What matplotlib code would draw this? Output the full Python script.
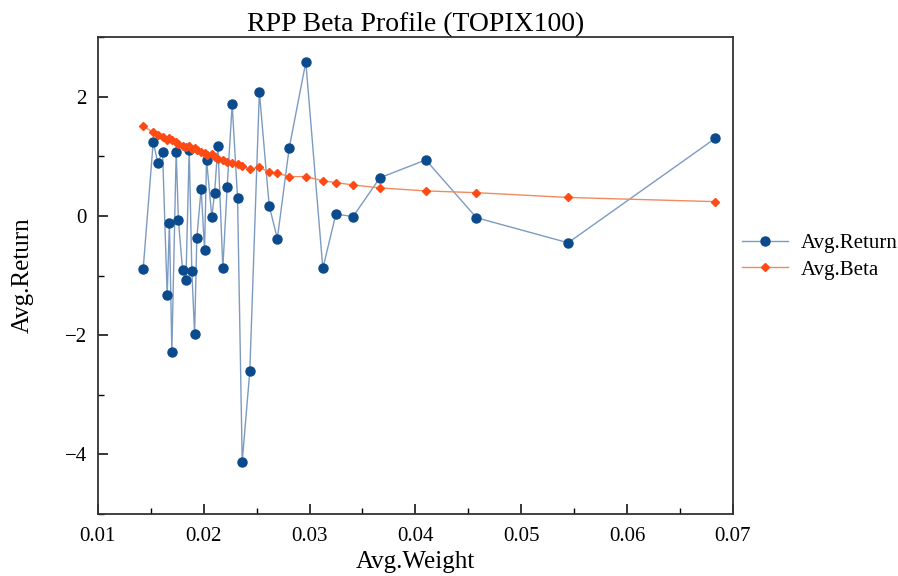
import matplotlib
matplotlib.use("Agg")
import matplotlib.pyplot as plt
from matplotlib.ticker import MultipleLocator

plt.rcParams['font.family'] = ['Liberation Serif', 'DejaVu Serif']

avg_weight = [0.01428, 0.01523, 0.01567, 0.01611, 0.01655, 0.01676, 0.01699, 0.01740,
              0.01761, 0.01800, 0.01832, 0.01863, 0.01888, 0.01914, 0.01935, 0.01976,
              0.02008, 0.02027, 0.02077, 0.02103, 0.02134, 0.02181, 0.02222, 0.02269,
              0.02320, 0.02364, 0.02436, 0.02526, 0.02619, 0.02696, 0.02808, 0.02965,
              0.03126, 0.03249, 0.03412, 0.03665, 0.04099, 0.04578, 0.05444, 0.06833]

avg_return = [-0.89, 1.24, 0.89, 1.08, -1.33, -0.11, -2.28, 1.08,
              -0.07, -0.90, -1.08, 1.11, -0.92, -1.98, -0.37, 0.46,
              -0.57, 0.94, -0.02, 0.39, 1.18, -0.87, 0.49, 1.87,
              0.30, -4.12, -2.60, 2.08, 0.17, -0.38, 1.14, 2.58,
              -0.88, 0.03, -0.01, 0.64, 0.94, -0.03, -0.45, 1.30]

avg_beta = [1.51, 1.40, 1.36, 1.33, 1.28, 1.31, 1.27, 1.24,
            1.20, 1.18, 1.15, 1.17, 1.12, 1.14, 1.10, 1.07,
            1.05, 1.02, 1.04, 0.99, 0.96, 0.94, 0.91, 0.89,
            0.87, 0.84, 0.78, 0.82, 0.73, 0.72, 0.66, 0.66,
            0.59, 0.56, 0.52, 0.47, 0.42, 0.39, 0.31, 0.24]

fig = plt.figure(figsize=(8.98, 5.76), dpi=100)
ax = fig.add_axes([0.109, 0.1076, 0.707, 0.828])

ax.plot(avg_weight, avg_return, color='#7d9bc1', linewidth=1.0,
        marker='o', markersize=6.5, markerfacecolor='#0b4a8c',
        markeredgecolor='#0b4a8c', label='Avg.Return', zorder=2)
ax.plot(avg_weight, avg_beta, color='#f28a60', linewidth=1.0,
        marker='D', markersize=4.5, markerfacecolor='#ff4a14',
        markeredgecolor='#ff4a14', label='Avg.Beta', zorder=3)

ax.set_xlim(0.01, 0.07)
ax.set_ylim(-5, 3)
ax.xaxis.set_minor_locator(MultipleLocator(0.005))
ax.yaxis.set_minor_locator(MultipleLocator(1))
ax.set_xticks([0.01, 0.02, 0.03, 0.04, 0.05, 0.06, 0.07])
ax.set_xticklabels(['0.01', '0.02', '0.03', '0.04', '0.05', '0.06', '0.07'])
ax.set_yticks([-4, -2, 0, 2])
ax.set_yticklabels(['\u22124', '\u22122', '0', '2'])

ax.tick_params(which='major', direction='in', length=7, width=1.1,
               labelsize=15, top=False, right=False, pad=8)
ax.tick_params(which='minor', direction='in', length=4, width=1.0,
               top=False, right=False)
ax.tick_params(axis='x', which='major', pad=9)

for s in ax.spines.values():
    s.set_linewidth(1.3)
    s.set_color('#333333')

ax.set_title('RPP Beta Profile (TOPIX100)', fontsize=20, pad=3)
ax.set_xlabel('Avg.Weight', fontsize=18, labelpad=4)
ax.set_ylabel('Avg.Return', fontsize=18, labelpad=22)

ax.legend(loc='center left', bbox_to_anchor=(0.985, 0.54), frameon=False,
          fontsize=15, handlelength=2.2, handletextpad=0.6, labelspacing=0.35)

fig.savefig('out.png', dpi=100)
